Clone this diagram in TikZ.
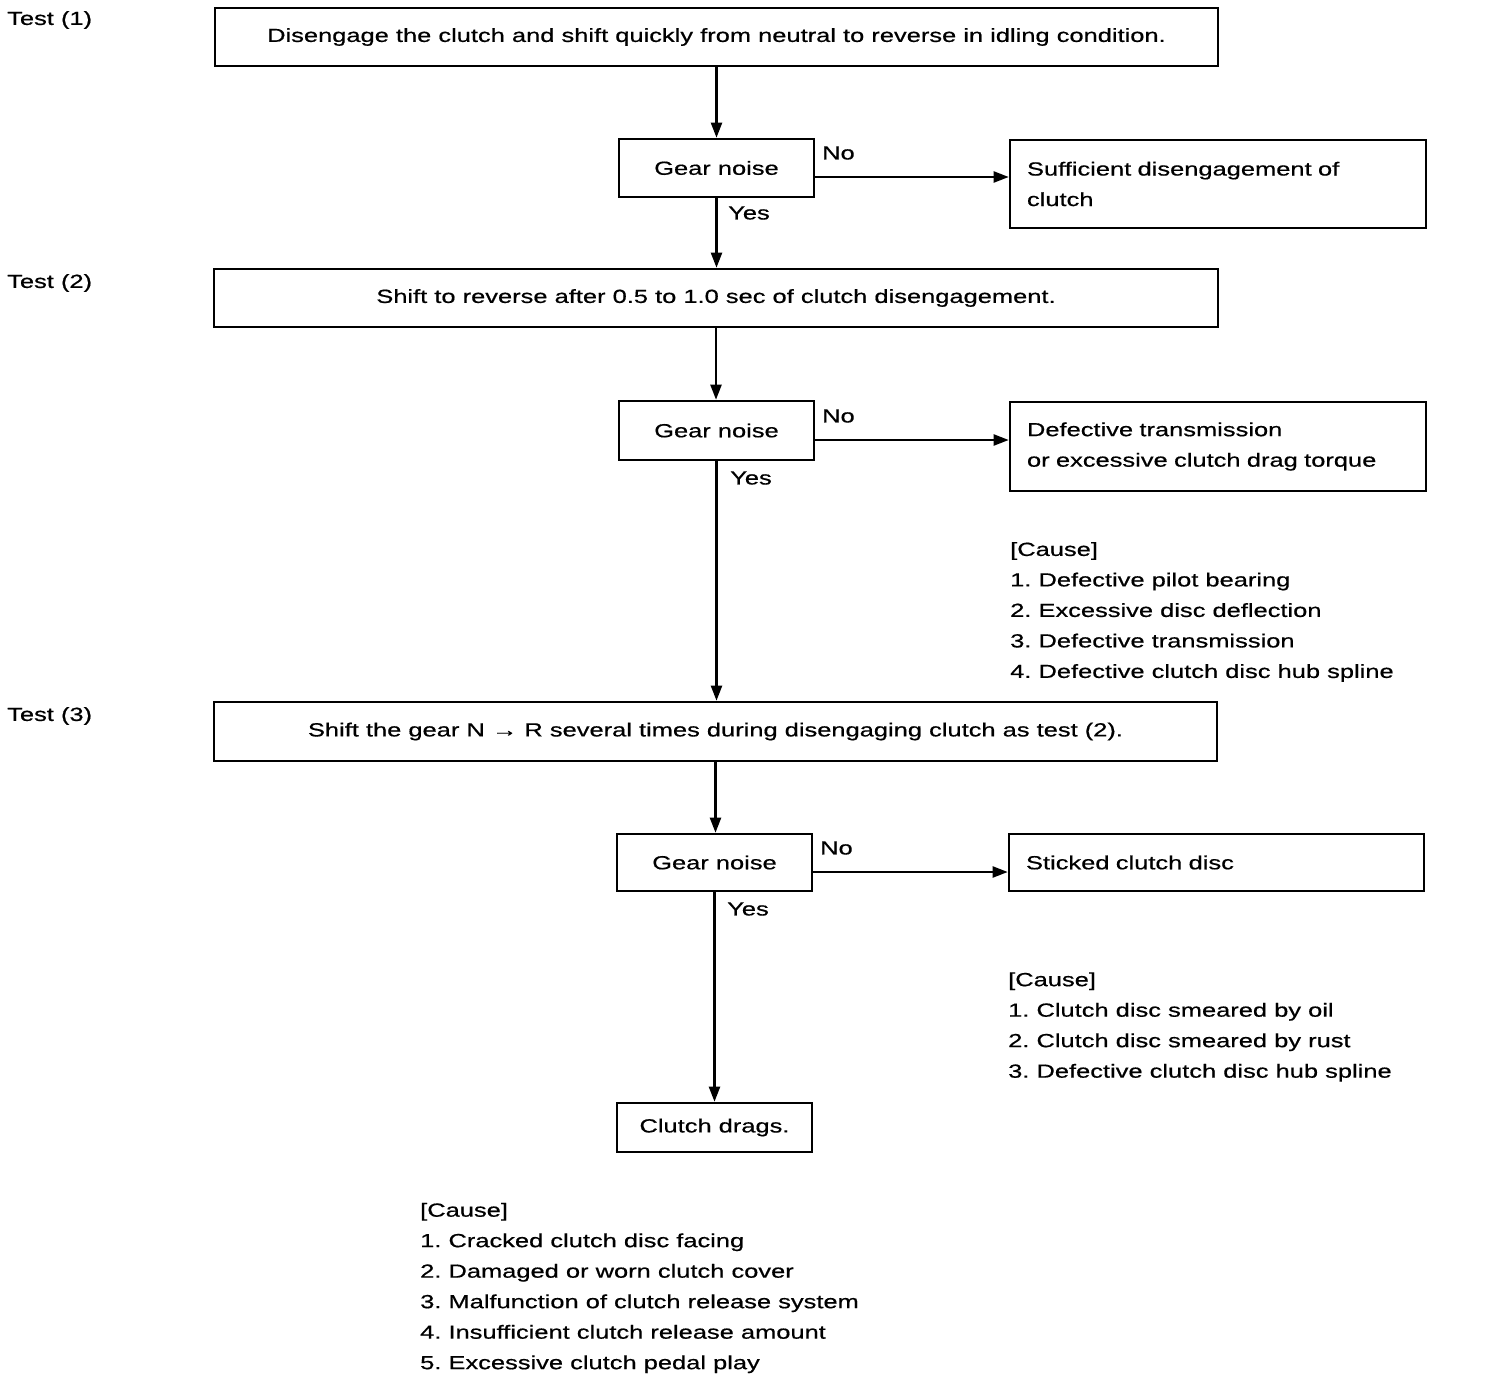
\documentclass[tikz,border=0pt]{standalone}
\usepackage{fontspec}
\setmainfont{Liberation Sans}[FakeStretch=1.34,FakeBold=0.6]
\usetikzlibrary{arrows.meta}
\frenchspacing
\begin{document}
\begin{tikzpicture}[x=1pt,y=-1pt,
  every node/.style={font=\fontsize{19}{30.5}\selectfont},
  box/.style={draw,line width=2.6pt,inner sep=0pt},
  wide/.style={box,minimum width=1003pt,minimum height=58pt},
  gear/.style={box,minimum width=195pt,minimum height=58pt},
  result/.style={box,text width=382pt,align=left,inner xsep=17pt,inner ysep=0pt},
  lbl/.style={inner sep=0pt,anchor=west},
  cause/.style={inner sep=0pt,anchor=west,align=left},
  arr/.style={line width=2.2pt,-{Triangle[length=15pt,width=11pt]}}
]
\useasboundingbox (0,0) rectangle (1504,1394);

% Test labels
\node[lbl] (t1) at (7,20) {Test (1)};
\node[lbl] (t2) at (7,283) {Test (2)};
\node[lbl] (t3) at (7,716) {Test (3)};

% Test 1
\node[wide] (b1) at (716.5,37) {Disengage the clutch and shift quickly from neutral to reverse in idling condition.};
\node[gear] (g1) at (716.5,168) {Gear noise};
\node[result,minimum height=88pt] (r1) at (1218,184) {Sufficient disengagement of\\clutch};
\node[lbl] (no1) at (822,153) {No};
\node[lbl] (yes1) at (728,213) {Yes};

% Test 2
\node[wide,minimum width=1004pt] (b2) at (716,298) {Shift to reverse after 0.5 to 1.0 sec of clutch disengagement.};
\node[gear,minimum height=59pt] (g2) at (716.5,430.5) {Gear noise};
\node[result,minimum height=89pt] (r2) at (1218,446.5) {Defective transmission\\or excessive clutch drag torque};
\node[lbl] (no2) at (822,416) {No};
\node[lbl] (yes2) at (730,478) {Yes};
\node[cause] (c1) at (1010,612) {[Cause]\\1. Defective pilot bearing\\2. Excessive disc deflection\\3. Defective transmission\\4. Defective clutch disc hub spline};

% Test 3
\node[wide,minimum height=59pt] (b3) at (715.5,731.5) {Shift the gear N → R several times during disengaging clutch as test (2).};
\node[gear,minimum height=57pt] (g3) at (714.5,862.5) {Gear noise};
\node[result,text width=381pt,minimum height=57pt] (r3) at (1216.5,862.5) {Sticked clutch disc};
\node[lbl] (no3) at (820,848) {No};
\node[lbl] (yes3) at (727,909) {Yes};
\node[cause] (c2) at (1008,1027) {[Cause]\\1. Clutch disc smeared by oil\\2. Clutch disc smeared by rust\\3. Defective clutch disc hub spline};

\node[gear,minimum height=49pt] (d) at (714.5,1127.5) {Clutch drags.};
\node[cause] (c3) at (420,1288) {[Cause]\\1. Cracked clutch disc facing\\2. Damaged or worn clutch cover\\3. Malfunction of clutch release system\\4. Insufficient clutch release amount\\5. Excessive clutch pedal play};

% connectors
\draw[arr] (b1.south) -- (b1.south |- g1.north);
\draw[arr] (g1.south) -- (g1.south |- b2.north);
\draw[arr] (b2.south) -- (b2.south |- g2.north);
\draw[arr] (g2.south) -- (g2.south |- b3.north);
\draw[arr] (b3.south) -- (b3.south |- g3.north);
\draw[arr] (g3.south) -- (g3.south |- d.north);
\draw[arr] ([yshift=-9pt]g1.east) -- ([yshift=-9pt]g1.east -| r1.west);
\draw[arr] ([yshift=-9.5pt]g2.east) -- ([yshift=-9.5pt]g2.east -| r2.west);
\draw[arr] ([yshift=-9.5pt]g3.east) -- ([yshift=-9.5pt]g3.east -| r3.west);
\end{tikzpicture}
\end{document}
